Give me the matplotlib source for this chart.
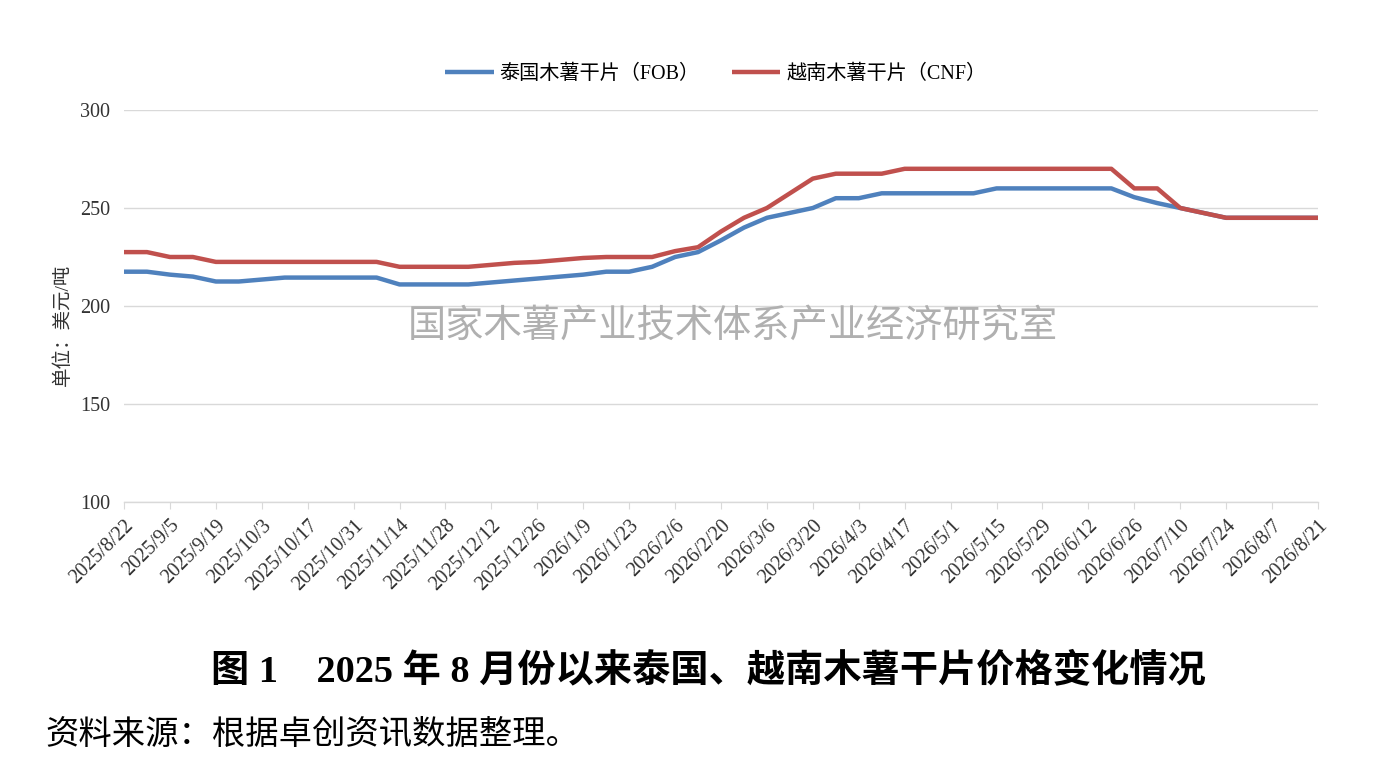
import matplotlib
matplotlib.use('Agg')
from matplotlib import pyplot as plt
import pandas as pd

# weekly prices, USD/t
dates = pd.date_range('2025-08-22', '2026-08-21', freq='7D')
thai_fob = [217.5, 217.5, 216, 215, 212.5, 212.5, 213.5, 214.5, 214.5, 214.5,
            214.5, 214.5, 211, 211, 211, 211, 212, 213, 214, 215,
            216, 217.5, 217.5, 220, 225, 227.5, 233.5, 240, 245, 247.5,
            250, 255, 255, 257.5, 257.5, 257.5, 257.5, 257.5, 260, 260,
            260, 260, 260, 260, 255.5, 252.5, 250, 247.5, 245, 245,
            245, 245, 245]
viet_cnf = [227.5, 227.5, 225, 225, 222.5, 222.5, 222.5, 222.5, 222.5, 222.5,
            222.5, 222.5, 220, 220, 220, 220, 221, 222, 222.5, 223.5,
            224.5, 225, 225, 225, 228, 230, 238, 245, 250, 257.5,
            265, 267.5, 267.5, 267.5, 270, 270, 270, 270, 270, 270,
            270, 270, 270, 270, 260, 260, 250, 247.5, 245, 245,
            245, 245, 245]
yticks = [100, 150, 200, 250, 300]

serif_cjk = ['Liberation Serif', 'Noto Sans CJK SC']
plt.rcParams['font.family'] = serif_cjk

fig = plt.figure(figsize=(13.74, 7.68), dpi=100)
ax = fig.add_axes([124/1374, 1-502/768, (1318-124)/1374, (502-110)/768])

x = list(range(len(dates)))
ax.plot(x, thai_fob, color='#4f81bd', lw=3.2, label='泰国木薯干片（FOB）', solid_capstyle='butt')
ax.plot(x, viet_cnf, color='#c0504d', lw=3.2, label='越南木薯干片（CNF）', solid_capstyle='butt')

ax.set_xlim(0, len(dates) - 1)
ax.set_ylim(100, 300)
ax.set_yticks(yticks)
ax.grid(axis='y', color='#d9d9d9', lw=1)
ax.set_axisbelow(True)
for s in ['top', 'right', 'left']:
    ax.spines[s].set_visible(False)
ax.spines['bottom'].set_color('#d9d9d9')
ax.spines['bottom'].set_linewidth(1)

ticks = x[::2]
ax.set_xticks(ticks)
ax.set_xticklabels([f'{d.year}/{d.month}/{d.day}' for d in dates[::2]],
                   rotation=45, ha='right', rotation_mode='anchor', fontsize=14.5, color='#333333')
ax.tick_params(axis='x', length=5, color='#d9d9d9', pad=5)
ax.tick_params(axis='y', length=0, pad=10, labelsize=14.5, labelcolor='#333333')

fig.text(63/1374, 1-325/768, '单位：美元/吨', rotation=90, ha='center', va='center',
         fontsize=14, color='#333333')

fig.text(733/1374, 1-327/768, '国家木薯产业技术体系产业经济研究室', ha='center', va='center',
         fontsize=27.5, color='#b0b0b0', fontweight='light')

fig.legend(loc='center', bbox_to_anchor=(716/1374, 1-74/768), ncol=2, frameon=False,
           fontsize=14.5, handlelength=2.4, columnspacing=1.6, handletextpad=0.3)

fig.text(708/1374, 1-671/768, '图 1    2025 年 8 月份以来泰国、越南木薯干片价格变化情况',
         ha='center', va='center', fontsize=27.5, fontweight='bold')
fig.text(45/1374, 1-735/768, '资料来源：根据卓创资讯数据整理。', ha='left', va='center',
         fontsize=24)

fig.savefig('out.png', dpi=100, facecolor='white')
